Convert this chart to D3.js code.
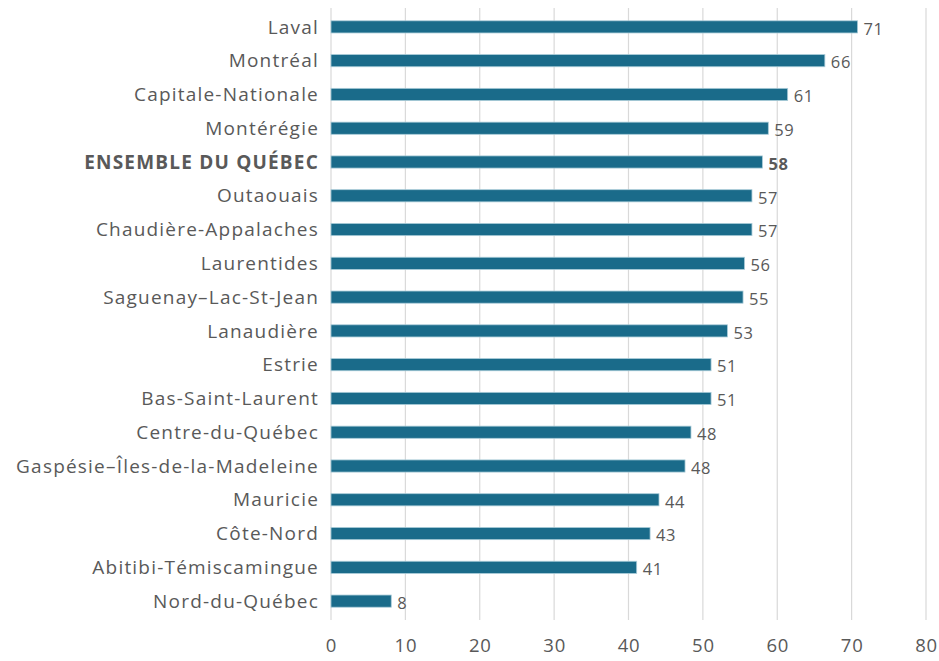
<!DOCTYPE html>
<html>
<head>
<meta charset="utf-8">
<script src="https://cdn.jsdelivr.net/npm/d3@7"></script>
<style>
  body { margin: 0; background: #fff; }
  text { font-family: "Open Sans", "Noto Sans", sans-serif; fill: #595959; }
</style>
</head>
<body>
<div id="chart"></div>
<script>
// regions, top to bottom
var regions = ["Laval", "Montréal", "Capitale-Nationale", "Montérégie", "ENSEMBLE DU QUÉBEC",
  "Outaouais", "Chaudière-Appalaches", "Laurentides", "Saguenay–Lac-St-Jean", "Lanaudière",
  "Estrie", "Bas-Saint-Laurent", "Centre-du-Québec", "Gaspésie–Îles-de-la-Madeleine",
  "Mauricie", "Côte-Nord", "Abitibi-Témiscamingue", "Nord-du-Québec"];
var values = [70.8, 66.4, 61.4, 58.8, 58.0, 56.6, 56.6, 55.6, 55.4, 53.3,
  51.1, 51.1, 48.4, 47.6, 44.1, 42.9, 41.1, 8.1];
var xTicks = [0, 10, 20, 30, 40, 50, 60, 70, 80];
var total = "ENSEMBLE DU QUÉBEC";

var width = 939, height = 661;
var margin = {top: 10, right: 13, bottom: 43, left: 331};

var svg = d3.select("#chart").append("svg")
  .attr("width", width).attr("height", height);

var x = d3.scaleLinear().domain([0, 80]).range([margin.left, width - margin.right]);
var y = d3.scaleBand().domain(regions).range([margin.top, height - margin.bottom])
  .paddingInner(0.64).paddingOuter(0.32);

// gridlines
svg.append("g").selectAll("line").data(xTicks).enter().append("line")
  .attr("x1", function(d) { return x(d); }).attr("x2", function(d) { return x(d); })
  .attr("y1", margin.top - 2).attr("y2", height - margin.bottom + 2)
  .attr("stroke", "#d9d9d9").attr("stroke-width", 1.2);

// x axis labels
var xAxis = svg.append("g")
  .attr("transform", "translate(0," + (height - margin.bottom) + ")")
  .call(d3.axisBottom(x).tickValues(xTicks).tickSize(0).tickPadding(21));
xAxis.select(".domain").remove();
xAxis.selectAll("text").style("font-size", "18.5px").style("letter-spacing", "0.8px").attr("fill", "#595959");

// bars
svg.append("g").selectAll("rect").data(values).enter().append("rect")
  .attr("x", x(0))
  .attr("y", function(d, i) { return y(regions[i]); })
  .attr("width", function(d) { return x(d) - x(0); })
  .attr("height", y.bandwidth())
  .attr("fill", "#1a6b8a")
  .attr("stroke", "#a9cbd8").attr("stroke-width", 0.8);

// category labels
svg.append("g").selectAll("text").data(regions).enter().append("text")
  .attr("x", margin.left - 12)
  .attr("y", function(d) { return y(d) + y.bandwidth() / 2; })
  .attr("dy", "0.35em")
  .attr("text-anchor", "end")
  .style("font-size", "19px")
  .style("letter-spacing", "1.2px")
  .style("font-weight", function(d) { return d === total ? "bold" : "normal"; })
  .text(function(d) { return d; });

// value labels
svg.append("g").selectAll("text").data(values).enter().append("text")
  .attr("x", function(d) { return x(d) + 6; })
  .attr("y", function(d, i) { return y(regions[i]) + y.bandwidth() / 2 + 2; })
  .attr("dy", "0.35em")
  .style("font-size", "16.5px")
  .style("letter-spacing", "0.6px")
  .style("font-weight", function(d, i) { return regions[i] === total ? "bold" : "normal"; })
  .text(function(d) { return Math.round(d); });
</script>
</body>
</html>
